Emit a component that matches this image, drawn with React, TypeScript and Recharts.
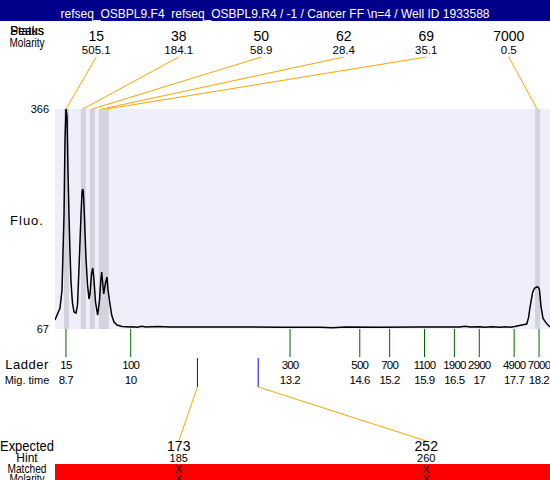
import React from 'react';
import { LineChart, Line, XAxis, YAxis, ReferenceArea, ReferenceLine, ReferenceDot } from 'recharts';

const FONT = '"Liberation Sans", Arial, Helvetica, sans-serif';

// Axis domains
const X_DOMAIN: [number, number] = [8.48, 18.42]; // migration time
const Y_DOMAIN: [number, number] = [67, 366]; // fluorescence
const PAGE_Y: [number, number] = [109, 329]; // row axis (same units as page rows)

// Electropherogram trace
const traceTime = [
  8.48, 8.58, 8.621, 8.641, 8.661, 8.681, 8.701, 8.721, 8.741, 8.761, 8.781, 8.801, 8.831, 8.862, 8.902,
  8.932, 8.962, 8.982, 9.002, 9.022, 9.032, 9.048, 9.062, 9.082, 9.102, 9.133, 9.163, 9.183, 9.213, 9.237,
  9.263, 9.293, 9.337, 9.374, 9.398, 9.418, 9.458, 9.494, 9.524, 9.544, 9.584, 9.618, 9.665, 9.725, 9.825,
  9.986, 10.026, 10.127, 10.221, 10.307, 10.548, 10.789, 11.392, 12.195, 12.998, 13.801, 14.063, 14.303,
  15.006, 15.81, 16.613, 16.713, 16.814, 17.015, 17.115, 17.255, 17.416, 17.516, 17.617, 17.717, 17.777,
  17.858, 17.952, 17.988, 18.018, 18.072, 18.108, 18.153, 18.189, 18.209, 18.239, 18.279, 18.353, 18.42,
];
const traceFluo = [
  79.2, 95.5, 120.0, 171.7, 221.9, 323.9, 366.0, 356.5, 280.4, 221.9, 171.7, 130.9, 102.3, 90.1, 88.7,
  99.6, 149.9, 185.2, 221.9, 251.8, 257.3, 254.6, 235.5, 198.8, 163.5, 126.8, 107.8, 114.6, 141.7, 149.9,
  133.6, 103.7, 86.0, 106.4, 132.0, 144.5, 114.6, 129.5, 137.7, 120.0, 101.0, 86.0, 76.5, 72.4, 70.4,
  69.7, 69.9, 69.4, 70.6, 69.6, 70.3, 69.6, 69.6, 69.6, 69.5, 69.5, 68.8, 69.6,
  69.5, 69.6, 69.8, 70.6, 69.6, 70.0, 69.4, 70.1, 69.5, 70.2, 69.4, 70.5, 71.5,
  72.5, 73.8, 82.0, 96.2, 117.0, 122.3, 124.2, 123.5, 120.0, 97.6, 81.3, 74.3, 69.7,
];
const trace = traceTime.map((t, i) => ({ t, f: traceFluo[i] }));

// Called peaks
const peakSizes = ['15', '38', '50', '62', '69', '7000'];
const peakMolarity = ['505.1', '184.1', '58.9', '28.4', '35.1', '0.5'];
const peakTimes = [8.7, 9.04, 9.23, 9.42, 9.52, 18.16];
const bandStart = [8.66, 9.0, 9.18, 9.36, 9.46, 18.12];
const bandEnd = [8.76, 9.1, 9.28, 9.46, 9.56, 18.22];

// Ladder
const ladderSizes = ['15', '100', '300', '500', '700', '1100', '1900', '2900', '4900', '7000'];
const ladderTimes = [8.7, 10, 13.2, 14.6, 15.2, 15.9, 16.5, 17, 17.7, 18.2];

// Expected products
const expectedSizes = ['173', '252'];
const hintSizes = ['185', '260'];
const expectedTimes = [11.34, 12.56];
const matchedMarks = ['X', 'X'];
const molarityMarks = ['X', 'X'];

const TITLE = 'refseq_OSBPL9.F4  refseq_OSBPL9.R4 / -1 / Cancer FF \\n=4 / Well ID 1933588';

// layout rows (page rows, on the PAGE_Y axis)
const ROW = {
  size: 41,
  mol: 54,
  lineStart: 57,
  plotTop: 109,
  plotBottom: 329,
  tickEnd: 357,
  ladder: 369,
  mig: 384,
  blueTop: 358,
  blueBottom: 387,
  expLineEnd: 441,
  expected: 451,
  hint: 462,
  redTop: 464,
  redBottom: 480,
  matched: 473,
  molarity: 483,
};

const colT = (i: number, n: number) => X_DOMAIN[0] + ((i + 0.5) / n) * (X_DOMAIN[1] - X_DOMAIN[0]);

const textShape = (label: string, size: number, extra: any = {}) => (p: any) => (
  <text
    x={p.cx}
    y={p.cy}
    textAnchor="middle"
    fontSize={size}
    fontFamily={FONT}
    fill="#000"
    {...extra}
  >
    {label}
  </text>
);

const ORANGE = '#FFA500';
const GREEN = '#006400';
const BLUE = '#0000FF';

export default function App() {
  const dots: React.ReactNode[] = [];
  const blueLines: React.ReactNode[] = [];
  const lines: React.ReactNode[] = [];

  peakSizes.forEach((s, i) => {
    const ct = colT(i, peakSizes.length);
    dots.push(
      <ReferenceDot key={`ps${i}`} xAxisId="t" yAxisId="page" x={ct} y={ROW.size} ifOverflow="visible" shape={textShape(s, 14)} />,
      <ReferenceDot key={`pm${i}`} xAxisId="t" yAxisId="page" x={ct} y={ROW.mol} ifOverflow="visible" shape={textShape(peakMolarity[i], 11.5)} />
    );
    lines.push(
      <ReferenceLine
        key={`pl${i}`}
        xAxisId="t"
        yAxisId="page"
        ifOverflow="visible"
        segment={[{ x: ct, y: ROW.lineStart }, { x: peakTimes[i], y: ROW.plotTop }]}
        stroke={ORANGE}
        strokeWidth={1}
      />
    );
  });

  ladderSizes.forEach((s, i) => {
    lines.push(
      <ReferenceLine
        key={`lt${i}`}
        xAxisId="t"
        yAxisId="page"
        ifOverflow="visible"
        segment={[{ x: ladderTimes[i], y: ROW.plotBottom }, { x: ladderTimes[i], y: ROW.tickEnd }]}
        stroke={GREEN}
        strokeWidth={1}
      />
    );
    dots.push(
      <ReferenceDot key={`ls${i}`} xAxisId="t" yAxisId="page" x={ladderTimes[i]} y={ROW.ladder} ifOverflow="visible" shape={textShape(s, 11.5, { letterSpacing: -0.8 })} />,
      <ReferenceDot key={`lm${i}`} xAxisId="t" yAxisId="page" x={ladderTimes[i]} y={ROW.mig} ifOverflow="visible" shape={textShape(String(ladderTimes[i]), 11.5, { letterSpacing: -0.5 })} />
    );
  });

  expectedSizes.forEach((s, i) => {
    const ct = colT(i, expectedSizes.length);
    blueLines.push(
      <ReferenceLine
        key={`blue-${s}`}
        xAxisId="t"
        yAxisId="page"
        ifOverflow="visible"
        segment={[{ x: expectedTimes[i], y: ROW.blueTop }, { x: expectedTimes[i], y: ROW.blueBottom }]}
        stroke={BLUE}
        strokeWidth={1}
      />
    );
    lines.push(
      <ReferenceLine
        key={`eo${i}`}
        xAxisId="t"
        yAxisId="page"
        ifOverflow="visible"
        segment={[{ x: expectedTimes[i], y: ROW.blueBottom }, { x: ct, y: ROW.expLineEnd }]}
        stroke={ORANGE}
        strokeWidth={1}
      />
    );
    dots.push(
      <ReferenceDot key={`es${i}`} xAxisId="t" yAxisId="page" x={ct} y={ROW.expected} ifOverflow="visible" shape={textShape(s, 14)} />,
      <ReferenceDot key={`eh${i}`} xAxisId="t" yAxisId="page" x={ct} y={ROW.hint} ifOverflow="visible" shape={textShape(hintSizes[i], 11)} />,
      <ReferenceDot key={`em${i}`} xAxisId="t" yAxisId="page" x={ct} y={ROW.matched} ifOverflow="visible" shape={textShape(matchedMarks[i], 11)} />,
      <ReferenceDot key={`ey${i}`} xAxisId="t" yAxisId="page" x={ct} y={ROW.molarity} ifOverflow="visible" shape={textShape(molarityMarks[i], 11)} />
    );
  });

  const leftLabel = (label: string, y: number, size: number, extra: any = {}) => (
    <text x={27} y={y} textAnchor="middle" fontSize={size} fontFamily={FONT} fill="#000" {...extra}>
      {label}
    </text>
  );

  return (
    <div style={{ position: 'absolute', left: 0, top: 0, width: 550, height: 480, background: '#fff' }}>
      <LineChart width={550} height={480} data={trace} margin={{ top: 109, right: 0, bottom: 151, left: 0 }}>
        <XAxis xAxisId="t" type="number" dataKey="t" domain={X_DOMAIN} allowDataOverflow hide />
        <YAxis
          yAxisId="fluo"
          type="number"
          domain={Y_DOMAIN}
          ticks={[67, 366]}
          allowDataOverflow
          width={55}
          axisLine={false}
          tickLine={false}
          tickMargin={0}
          tick={{ fontSize: 11, fontFamily: FONT, fill: '#000' }}
        />
        <YAxis yAxisId="page" type="number" domain={PAGE_Y} allowDataOverflow reversed hide />
        <ReferenceArea xAxisId="t" yAxisId="fluo" x1={X_DOMAIN[0]} x2={X_DOMAIN[1]} y1={Y_DOMAIN[0]} y2={Y_DOMAIN[1]} fill="#EFEFFB" fillOpacity={1} stroke="none" ifOverflow="visible" />
        {bandStart.map((b, i) => (
          <ReferenceArea key={`band${i}`} xAxisId="t" yAxisId="fluo" x1={b} x2={bandEnd[i]} y1={Y_DOMAIN[0]} y2={Y_DOMAIN[1]} fill="#D3D3E0" fillOpacity={1} stroke="none" ifOverflow="visible" />
        ))}
        <ReferenceArea xAxisId="t" yAxisId="page" x1={X_DOMAIN[0]} x2={X_DOMAIN[1]} y1={ROW.redTop} y2={ROW.redBottom} fill="#FF0000" fillOpacity={1} stroke="none" ifOverflow="visible" />
        <Line xAxisId="t" yAxisId="fluo" type="linear" dataKey="f" stroke="#000" strokeWidth={1.5} dot={false} isAnimationActive={false} />
        {blueLines}
        {lines}
        {dots}
      </LineChart>
      <svg width={550} height={480} style={{ position: 'absolute', left: 0, top: 0, pointerEvents: 'none' }}>
        <rect x={0} y={0} width={550} height={21} fill="#00008B" />
        <text x={275} y={18} textAnchor="middle" fontSize={12} fontFamily={FONT} fill="#fff" style={{ whiteSpace: 'pre' }}>
          {TITLE}
        </text>
        {leftLabel('Status', 35, 12)}
        {leftLabel('Peaks', 35, 12)}
        {leftLabel('Molarity', 47, 12, { textLength: 35, lengthAdjust: 'spacingAndGlyphs' })}
        {leftLabel('Fluo.', 225, 13, { letterSpacing: 1 })}
        {leftLabel('Ladder', 369, 13, { letterSpacing: 0.5 })}
        {leftLabel('Mig. time', 384, 11)}
        {leftLabel('Expected', 451, 14, { textLength: 54, lengthAdjust: 'spacingAndGlyphs' })}
        {leftLabel('Hint', 462, 12)}
        {leftLabel('Matched', 473, 12, { textLength: 39, lengthAdjust: 'spacingAndGlyphs' })}
        {leftLabel('Molarity', 483, 12, { textLength: 35, lengthAdjust: 'spacingAndGlyphs' })}
      </svg>
    </div>
  );
}
